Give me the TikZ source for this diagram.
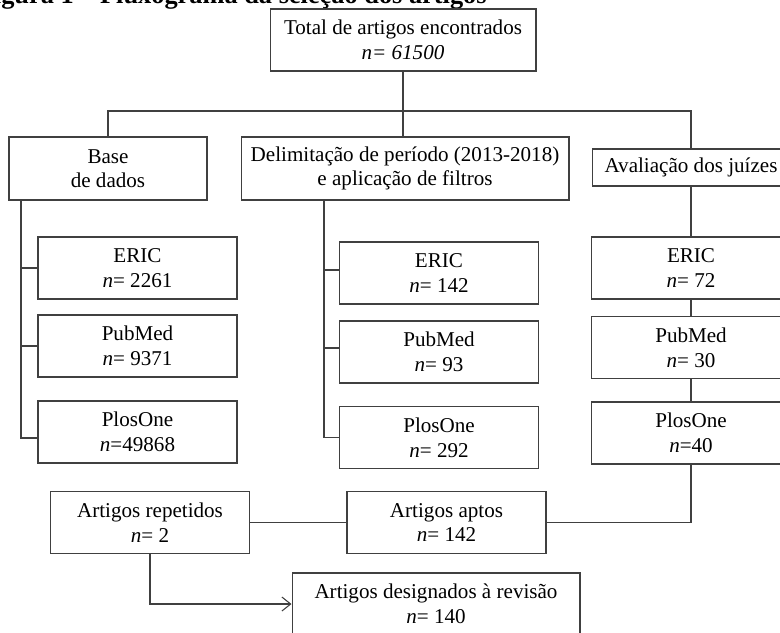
\documentclass[tikz,border=0pt]{standalone}
\usepackage{fontspec}
\setmainfont{Liberation Serif}
\usepackage{xcolor}
\usepackage{tikz}
\usetikzlibrary{positioning}
\usetikzlibrary{arrows.meta}
\tikzset{flow/.style = {-{Straight Barb[length=5pt,width=8pt]}}}

\begin{document}
\begin{tikzpicture}[x=0.02cm,y=-0.02cm,line width=0.6pt,color=black!75,
        box/.style={draw,rectangle,align=center,inner sep=0pt,text=black,minimum height=1.24cm,font=\fontsize{12}{14}\selectfont},
        db/.style={box,minimum width=3.98cm}]
            \useasboundingbox (0,0) rectangle (780,632);
            \node[anchor=base east,text=black,font=\fontsize{15}{18}\selectfont\bfseries] (caption) at (493,4) {Figura 1 – Fluxograma da seleção dos artigos};
            \node[box,minimum width=5.32cm] (total) at (403,40) {Total de artigos encontrados\\\textit{n= 61500}};
            \node[box,minimum width=3.96cm,minimum height=1.26cm] (base) at (108,168.5) {Base\\de dados};
            \node[box,minimum width=6.56cm,minimum height=1.26cm] (delim) at (405,168.5) {Delimitação de período (2013-2018)\\e aplicação de filtros};
            \node[box,minimum width=3.96cm,minimum height=0.74cm] (aval) at (691,167.5) {Avaliação dos juízes};
            \node[db] (beric) at (137.5,268) {ERIC\\\textit{n}= 2261};
            \node[db] (bpub) at (137.5,346) {PubMed\\\textit{n}= 9371};
            \node[db] (bplos) at (137.5,432) {PlosOne\\\textit{n}=49868};
            \node[db] (deric) at (439,273) {ERIC\\\textit{n}= 142};
            \node[db] (dpub) at (439,352) {PubMed\\\textit{n}= 93};
            \node[db] (dplos) at (439,437.5) {PlosOne\\\textit{n}= 292};
            \node[db] (aeric) at (691,268) {ERIC\\\textit{n}= 72};
            \node[db] (apub) at (691,347.5) {PubMed\\\textit{n}= 30};
            \node[db] (aplos) at (691,433) {PlosOne\\\textit{n}=40};
            \node[db] (rep) at (150,522.5) {Artigos repetidos\\\textit{n}= 2};
            \node[db] (aptos) at (446.5,522.5) {Artigos aptos\\\textit{n}= 142};
            \node[box,minimum width=5.76cm] (desig) at (436,604) {Artigos designados à revisão\\\textit{n}= 140};
            \coordinate (bus) at (403,111);
            \coordinate (bspine) at (21,200);
            \coordinate (dspine) at (324,200);
            \draw (total.south) -- (total.south |- delim.north);
            \draw (base.north) |- (bus) -| (aval.north);
            \draw (bspine) |- (beric.west) (bspine) |- (bpub.west) (bspine) |- ([yshift=-0.12cm]bplos.west);
            \draw (dspine) |- ([yshift=0.06cm]deric.west) (dspine) |- ([yshift=0.08cm]dpub.west) (dspine) |- (dplos.west);
            \draw (aval) -- (aeric) -- (apub) -- (aplos);
            \draw (aplos) |- (aptos);
            \draw (rep) -- (aptos);
            \draw[flow] (rep) |- (desig);
        \end{tikzpicture}
\end{document}
